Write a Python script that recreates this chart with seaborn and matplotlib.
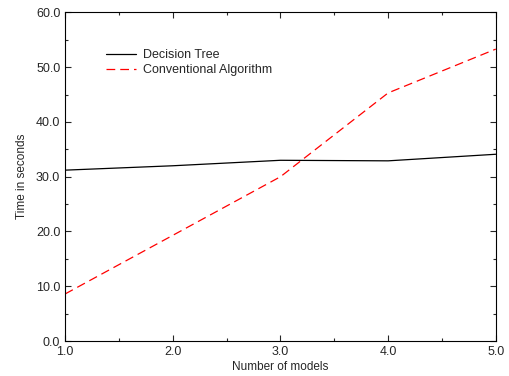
import pandas as pd
import matplotlib.pyplot as plt
import seaborn as sns
from matplotlib.ticker import MultipleLocator, FormatStrFormatter

# data
models = [1, 2, 3, 4, 5]
decision_tree = [31.2, 32.0, 33.0, 32.9, 34.1]
conventional = [8.6, 19.3, 30.0, 45.3, 53.3]

df = pd.DataFrame({
    "models": models * 2,
    "time": decision_tree + conventional,
    "algo": ["Decision Tree"] * 5 + ["Conventional Algorithm"] * 5,
})

sns.set_style("ticks")
plt.rcParams['font.family'] = ['Liberation Sans', 'DejaVu Sans']

fig = plt.figure(figsize=(5.09, 3.76), dpi=100)
ax = fig.add_axes([0.128, 0.093, 0.846, 0.874])

pal = {"Decision Tree": "black", "Conventional Algorithm": "red"}
dashes = {"Decision Tree": "", "Conventional Algorithm": (7, 4)}
sns.lineplot(data=df, x="models", y="time", hue="algo", style="algo",
             palette=pal, dashes=dashes, linewidth=0.9, ax=ax)

ax.set_xlim(1, 5)
ax.set_ylim(0, 60)
ax.xaxis.set_major_locator(MultipleLocator(1))
ax.xaxis.set_minor_locator(MultipleLocator(0.5))
ax.yaxis.set_major_locator(MultipleLocator(10))
ax.yaxis.set_minor_locator(MultipleLocator(5))
ax.xaxis.set_major_formatter(FormatStrFormatter('%.1f'))
ax.yaxis.set_major_formatter(FormatStrFormatter('%.1f'))
ax.tick_params(which='both', direction='in', top=True, right=True, labelsize=9, width=0.8)
ax.tick_params(which='major', length=4)
ax.tick_params(which='minor', length=2.5)
for s in ax.spines.values():
    s.set_linewidth(0.8)
    s.set_color('black')

ax.set_xlabel("Number of models", fontsize=8.5, labelpad=2)
ax.set_ylabel("Time in seconds", fontsize=8.5, labelpad=6)

leg = ax.legend(loc='upper left', bbox_to_anchor=(0.068, 0.923), frameon=False,
                fontsize=9, handlelength=2.4, handletextpad=0.6, labelspacing=0.25)

fig.savefig("out.png", dpi=100)
